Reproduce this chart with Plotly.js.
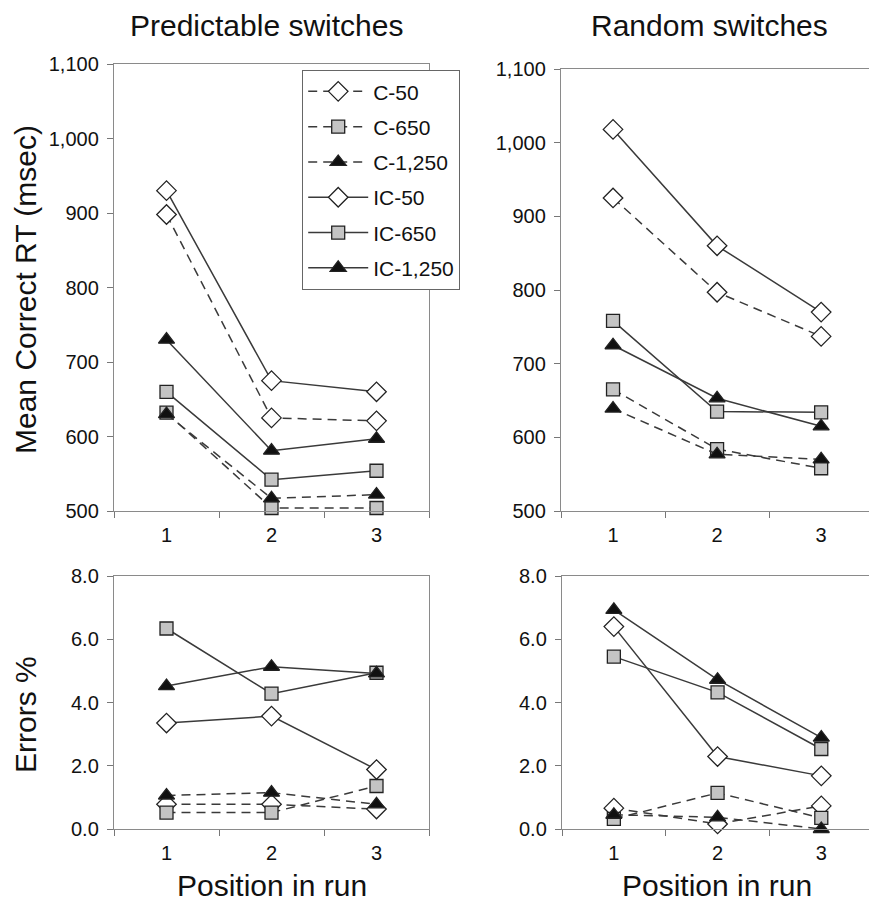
<!DOCTYPE html>
<html>
<head>
<meta charset="utf-8">
<script src="https://cdn.plot.ly/plotly-3.0.1.min.js"></script>
<style>html,body{margin:0;padding:0;background:#fff;}#chart{width:869px;height:902px;}</style>
</head>
<body>
<div id="chart"></div>
<script>
// ---- data ----
const positions = ['1', '2', '3'];
const seriesNames = ['C-50', 'C-650', 'C-1,250', 'IC-50', 'IC-650', 'IC-1,250'];

// Predictable switches, mean correct RT (msec)
const predRT_C50 = [898, 625, 621];
const predRT_C650 = [632, 504, 504];
const predRT_C1250 = [630, 517, 522];
const predRT_IC50 = [930, 675, 660];
const predRT_IC650 = [660, 542, 554];
const predRT_IC1250 = [730, 581, 597];

// Random switches, mean correct RT (msec)
const randRT_C50 = [925, 797, 737];
const randRT_C650 = [665, 584, 558];
const randRT_C1250 = [639, 577, 570];
const randRT_IC50 = [1018, 860, 770];
const randRT_IC650 = [758, 635, 634];
const randRT_IC1250 = [725, 653, 615];

// Predictable switches, errors %
const predErr_C50 = [0.78, 0.78, 0.63];
const predErr_C650 = [0.52, 0.52, 1.36];
const predErr_C1250 = [1.06, 1.15, 0.78];
const predErr_IC50 = [3.35, 3.57, 1.88];
const predErr_IC650 = [6.34, 4.28, 4.94];
const predErr_IC1250 = [4.52, 5.13, 4.92];

// Random switches, errors %
const randErr_C50 = [0.66, 0.16, 0.73];
const randErr_C650 = [0.32, 1.14, 0.35];
const randErr_C1250 = [0.45, 0.37, 0.0];
const randErr_IC50 = [6.40, 2.29, 1.68];
const randErr_IC650 = [5.45, 4.32, 2.53];
const randErr_IC1250 = [6.93, 4.72, 2.89];

// ---- styles ----
const W = 869, H = 902;
const FONT = 'Arial, "Liberation Sans", Helvetica, sans-serif';
const lineCol = '#3a3a3a';
const styles = [
  {dash: '9px,6px', symbol: 'diamond', fill: '#ffffff', size: 15},
  {dash: '9px,6px', symbol: 'square', fill: '#c4c4c4', size: 13},
  {dash: '9px,6px', symbol: 'triangle-up', fill: '#111111', size: 14},
  {dash: 'solid', symbol: 'diamond', fill: '#ffffff', size: 15},
  {dash: 'solid', symbol: 'square', fill: '#c4c4c4', size: 13},
  {dash: 'solid', symbol: 'triangle-up', fill: '#111111', size: 14}
];

const panels = [
  {xa: 'x', ya: 'y', data: [predRT_C50, predRT_C650, predRT_C1250, predRT_IC50, predRT_IC650, predRT_IC1250], legend: true},
  {xa: 'x2', ya: 'y2', data: [randRT_C50, randRT_C650, randRT_C1250, randRT_IC50, randRT_IC650, randRT_IC1250], legend: false},
  {xa: 'x3', ya: 'y3', data: [predErr_C50, predErr_C650, predErr_C1250, predErr_IC50, predErr_IC650, predErr_IC1250], legend: false},
  {xa: 'x4', ya: 'y4', data: [randErr_C50, randErr_C650, randErr_C1250, randErr_IC50, randErr_IC650, randErr_IC1250], legend: false}
];

const traces = [];
panels.forEach(p => {
  p.data.forEach((vals, i) => {
    const s = styles[i];
    traces.push({
      type: 'scatter', mode: 'lines+markers',
      x: positions, y: vals, xaxis: p.xa, yaxis: p.ya,
      name: seriesNames[i], legendgroup: 'g' + i, showlegend: p.legend,
      cliponaxis: false,
      line: {color: lineCol, width: 1.5, dash: s.dash},
      marker: {symbol: s.symbol, size: s.size, color: s.fill, line: {color: '#222', width: 1.3}},
      hoverinfo: 'skip'
    });
  });
});

function xd(a, b) { return [a / W, Math.min(b / W, 1)]; }
function yd(top, bottom) { return [1 - bottom / H, 1 - top / H]; }

function xAxis(domain, anchor, range) {
  return {
    domain: domain, anchor: anchor, type: 'category', range: range,
    tickson: 'boundaries', ticks: 'outside', ticklen: 6, tickcolor: '#777', tickwidth: 1,
    showline: true, mirror: true, linecolor: '#8a8a8a', linewidth: 1.2,
    showgrid: false, zeroline: false, fixedrange: true,
    ticklabelstandoff: 6,
    tickfont: {family: FONT, size: 20, color: '#111'}
  };
}
function yAxis(domain, anchor, range, dtick, fmt) {
  return {
    domain: domain, anchor: anchor, range: range, dtick: dtick, tick0: range[0], tickformat: fmt,
    ticks: 'outside', ticklen: 6, tickcolor: '#777', tickwidth: 1,
    showline: true, mirror: true, linecolor: '#8a8a8a', linewidth: 1.2,
    showgrid: false, zeroline: false, fixedrange: true,
    ticklabelstandoff: 4,
    tickfont: {family: FONT, size: 20, color: '#111'}
  };
}

const annFont = {family: FONT, size: 30, color: '#111'};
const layout = {
  width: W, height: H,
  margin: {l: 0, r: 0, t: 0, b: 0},
  paper_bgcolor: '#ffffff', plot_bgcolor: '#ffffff',
  showlegend: true,
  legend: {
    x: 302 / W, y: 1 - 70 / H, xanchor: 'left', yanchor: 'top',
    bgcolor: '#ffffff', bordercolor: '#666', borderwidth: 1.2,
    font: {family: FONT, size: 21, color: '#111'},
    tracegroupgap: 5, itemwidth: 60
  },
  xaxis: xAxis(xd(114, 429), 'y', [-0.5, 2.5]),
  yaxis: yAxis(yd(64, 511), 'x', [500, 1100], 100, ','),
  xaxis2: xAxis(xd(561, 869), 'y2', [-0.5, 2.46]),
  yaxis2: yAxis(yd(69, 511), 'x2', [500, 1100], 100, ','),
  xaxis3: xAxis(xd(114, 429), 'y3', [-0.5, 2.5]),
  yaxis3: yAxis(yd(576, 829), 'x3', [0, 8], 2, '.1f'),
  xaxis4: xAxis(xd(562, 869), 'y4', [-0.5, 2.46]),
  yaxis4: yAxis(yd(576, 829), 'x4', [0, 8], 2, '.1f'),
  annotations: [
    {text: 'Predictable switches', x: 266 / W, y: 1 - 26 / H, xref: 'paper', yref: 'paper', xanchor: 'center', yanchor: 'middle', showarrow: false, font: annFont},
    {text: 'Random switches', x: 709 / W, y: 1 - 26 / H, xref: 'paper', yref: 'paper', xanchor: 'center', yanchor: 'middle', showarrow: false, font: annFont},
    {text: 'Mean Correct RT (msec)', x: 25 / W, y: 1 - 290 / H, xref: 'paper', yref: 'paper', xanchor: 'center', yanchor: 'middle', textangle: -90, showarrow: false, font: annFont},
    {text: 'Errors %', x: 25 / W, y: 1 - 715 / H, xref: 'paper', yref: 'paper', xanchor: 'center', yanchor: 'middle', textangle: -90, showarrow: false, font: annFont},
    {text: 'Position in run', x: 272 / W, y: 1 - 885 / H, xref: 'paper', yref: 'paper', xanchor: 'center', yanchor: 'middle', showarrow: false, font: annFont},
    {text: 'Position in run', x: 717 / W, y: 1 - 885 / H, xref: 'paper', yref: 'paper', xanchor: 'center', yanchor: 'middle', showarrow: false, font: annFont}
  ]
};

Plotly.newPlot('chart', traces, layout, {staticPlot: true, displayModeBar: false});
</script>
</body>
</html>
